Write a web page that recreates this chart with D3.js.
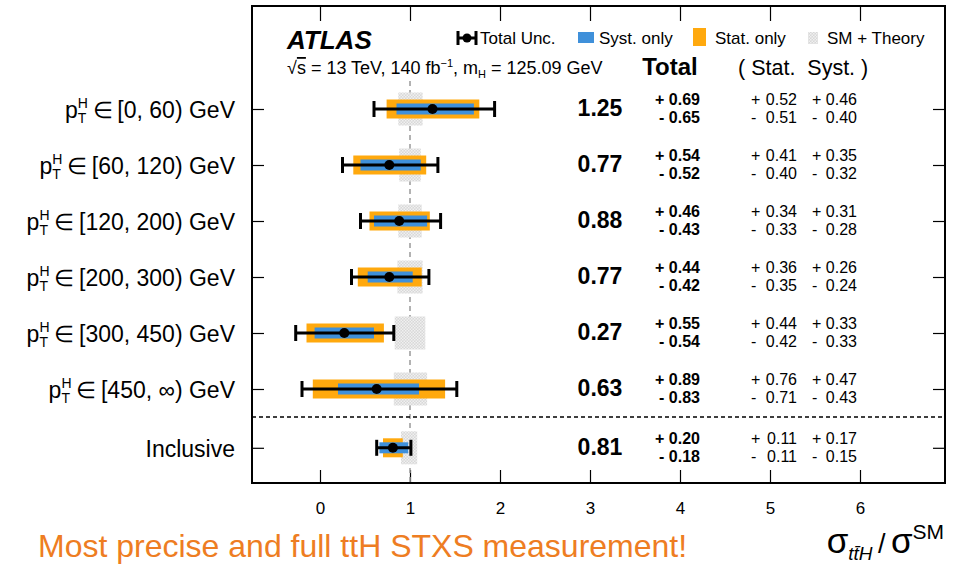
<!DOCTYPE html>
<html>
<head>
<meta charset="utf-8">
<script src="https://cdn.jsdelivr.net/npm/d3@7"></script>
<style>
  body { margin: 0; background: #fff; }
  text { font-family: "Liberation Sans", Arial, Helvetica, sans-serif; }
</style>
</head>
<body>
<script>
const WIDTH = 961;
const HEIGHT = 565;

// bins (top to bottom) and measured values
const binLabels = ["[0, 60)", "[60, 120)", "[120, 200)", "[200, 300)", "[300, 450)", "[450, \u221E)", "Inclusive"];
const rowPos   = [0, 1, 2, 3, 4, 5, 6.05];
const central  = [1.25, 0.77, 0.88, 0.77, 0.27, 0.63, 0.81];
const totUp    = [0.69, 0.54, 0.46, 0.44, 0.55, 0.89, 0.20];
const totDn    = [0.65, 0.52, 0.43, 0.42, 0.54, 0.83, 0.18];
const statUp   = [0.52, 0.41, 0.34, 0.36, 0.44, 0.76, 0.11];
const statDn   = [0.51, 0.40, 0.33, 0.35, 0.42, 0.71, 0.11];
const systUp   = [0.46, 0.35, 0.31, 0.26, 0.33, 0.47, 0.17];
const systDn   = [0.40, 0.32, 0.28, 0.24, 0.33, 0.43, 0.15];
const thUp     = [0.14, 0.12, 0.13, 0.14, 0.17, 0.19, 0.08];
const thDn     = [0.13, 0.12, 0.13, 0.14, 0.17, 0.18, 0.10];
const xTicks   = [0, 1, 2, 3, 4, 5, 6];
const legendLabels = ["Total Unc.", "Syst. only", "Stat. only", "SM + Theory"];

const ORANGE = "#ffa90e";
const BLUE = "#3f90da";

const rows = central.map((c, i) => ({
  label: binLabels[i], pos: rowPos[i], c,
  tu: totUp[i], td: totDn[i], su: statUp[i], sd: statDn[i],
  yu: systUp[i], yd: systDn[i], hu: thUp[i], hd: thDn[i]
}));

const frame = { left: 252, right: 945, top: 6, bottom: 483 };

const x = d3.scaleLinear().domain([-0.75, 6.95]).range([frame.left + 0.5, frame.right + 0.5]);
const y = d3.scaleLinear().domain([0, 6]).range([109, 445]);

let svg = d3.select("body")
            .append("svg")
            .attr("width", WIDTH)
            .attr("height", HEIGHT);

// checkered fill for SM theory band
let defs = svg.append("defs");
let pat = defs.append("pattern")
              .attr("id", "theory")
              .attr("patternUnits", "userSpaceOnUse")
              .attr("width", 3)
              .attr("height", 3);
pat.append("rect").attr("width", 3).attr("height", 3).attr("fill", "#d8d8d8");
pat.append("rect").attr("x", 0).attr("y", 0).attr("width", 1.5).attr("height", 1.5).attr("fill", "#f0f0f0");
pat.append("rect").attr("x", 1.5).attr("y", 1.5).attr("width", 1.5).attr("height", 1.5).attr("fill", "#f0f0f0");

// axes ticks
svg.append("g")
   .attr("transform", `translate(0,${frame.bottom})`)
   .call(d3.axisBottom(x).tickValues(xTicks).tickSize(-13).tickPadding(19).tickFormat(d3.format("d")))
   .call(g => g.select(".domain").remove())
   .call(g => g.selectAll("line").attr("stroke", "#000").attr("stroke-width", 1.2))
   .call(g => g.selectAll("text").attr("font-size", 17).attr("fill", "#000")
                .style("font-family", "'Liberation Sans', Arial, sans-serif"));

svg.append("g")
   .attr("transform", `translate(0,${frame.top})`)
   .call(d3.axisTop(x).tickValues(xTicks).tickSize(-15).tickFormat(""))
   .call(g => g.select(".domain").remove())
   .call(g => g.selectAll("line").attr("stroke", "#000").attr("stroke-width", 1.2));

svg.append("g")
   .attr("transform", `translate(${frame.left},0)`)
   .call(d3.axisLeft(y).tickValues(rowPos).tickSize(-12).tickFormat(""))
   .call(g => g.select(".domain").remove())
   .call(g => g.selectAll("line").attr("stroke", "#000").attr("stroke-width", 1.2));

svg.append("g")
   .attr("transform", `translate(${frame.right},0)`)
   .call(d3.axisRight(y).tickValues(rowPos).tickSize(-12).tickFormat(""))
   .call(g => g.select(".domain").remove())
   .call(g => g.selectAll("line").attr("stroke", "#000").attr("stroke-width", 1.2));

// SM reference line
svg.append("line")
   .attr("x1", x(1)).attr("x2", x(1))
   .attr("y1", 81).attr("y2", frame.bottom)
   .attr("stroke", "#999")
   .attr("stroke-width", 1.5)
   .attr("stroke-dasharray", "5,4");

// separator between bins and inclusive
svg.append("line")
   .attr("x1", frame.left).attr("x2", frame.right)
   .attr("y1", y(5.5)).attr("y2", y(5.5))
   .attr("stroke", "#000")
   .attr("stroke-width", 1.5)
   .attr("stroke-dasharray", "4,3");

let g = svg.selectAll("g.row")
           .data(rows).enter()
           .append("g")
           .attr("class", "row");

g.append("rect")
 .attr("x", d => x(1 - d.hd))
 .attr("width", d => x(1 + d.hu) - x(1 - d.hd))
 .attr("y", d => y(d.pos) - 16.5)
 .attr("height", 33)
 .attr("fill", "url(#theory)");

g.append("rect")
 .attr("x", d => x(d.c - d.sd))
 .attr("width", d => x(d.c + d.su) - x(d.c - d.sd))
 .attr("y", d => y(d.pos) - 9.5)
 .attr("height", 19)
 .attr("fill", ORANGE);

g.append("rect")
 .attr("x", d => x(d.c - d.yd))
 .attr("width", d => x(d.c + d.yu) - x(d.c - d.yd))
 .attr("y", d => y(d.pos) - 5.5)
 .attr("height", 11)
 .attr("fill", BLUE);

g.append("line")
 .attr("x1", d => x(d.c - d.td)).attr("x2", d => x(d.c + d.tu))
 .attr("y1", d => y(d.pos)).attr("y2", d => y(d.pos))
 .attr("stroke", "#000").attr("stroke-width", 3);

[d => x(d.c - d.td), d => x(d.c + d.tu)].forEach(fx => {
  g.append("line")
   .attr("x1", fx).attr("x2", fx)
   .attr("y1", d => y(d.pos) - 8).attr("y2", d => y(d.pos) + 8)
   .attr("stroke", "#000").attr("stroke-width", 3);
});

g.append("circle")
 .attr("cx", d => x(d.c))
 .attr("cy", d => y(d.pos))
 .attr("r", 5)
 .attr("fill", "#000");

// row labels: main part right-aligned, p_T^H placed before it
const LABEL_END = 235;
g.each(function(d) {
  const row = d3.select(this);
  const base = y(d.pos) + 9;
  if (d.label === "Inclusive") {
    row.append("text").attr("x", LABEL_END).attr("y", base)
       .attr("text-anchor", "end").attr("font-size", 23).text(d.label);
    return;
  }
  const main = row.append("text").attr("x", LABEL_END).attr("y", base)
                  .attr("text-anchor", "end").attr("font-size", 23)
                  .text("\u2208\u2009" + d.label + " GeV");
  const w = main.node().getComputedTextLength();
  const sx = LABEL_END - w - 15;
  row.append("text").attr("x", sx).attr("y", base + 5).attr("font-size", 14).text("T");
  row.append("text").attr("x", sx).attr("y", base - 10).attr("font-size", 14).text("H");
  row.append("text").attr("x", sx).attr("y", base)
     .attr("text-anchor", "end").attr("font-size", 23).text("p");
});

// numbers
g.append("text")
 .attr("x", 600)
 .attr("y", d => y(d.pos) + 7)
 .attr("text-anchor", "middle")
 .attr("font-size", 23)
 .attr("font-weight", "bold")
 .text(d => d.c.toFixed(2));

g.append("text")
 .attr("x", 700).attr("y", d => y(d.pos) - 4)
 .attr("text-anchor", "end").attr("font-size", 16).attr("font-weight", "bold")
 .text(d => "+ " + d.tu.toFixed(2));
g.append("text")
 .attr("x", 700).attr("y", d => y(d.pos) + 14)
 .attr("text-anchor", "end").attr("font-size", 16).attr("font-weight", "bold")
 .text(d => "- " + d.td.toFixed(2));

[[751, 797, "su", "sd"], [812, 857, "yu", "yd"]].forEach(([sx, ex, ku, kd]) => {
  [[ku, "+", -4], [kd, "-", 14]].forEach(([k, sign, dy]) => {
    g.append("text")
     .attr("x", sx).attr("y", d => y(d.pos) + dy)
     .attr("font-size", 16)
     .text(sign);
    g.append("text")
     .attr("x", ex).attr("y", d => y(d.pos) + dy)
     .attr("text-anchor", "end")
     .attr("font-size", 16)
     .text(d => d[k].toFixed(2));
  });
});

// frame
svg.append("rect")
   .attr("x", frame.left).attr("y", frame.top)
   .attr("width", frame.right - frame.left)
   .attr("height", frame.bottom - frame.top)
   .attr("fill", "none")
   .attr("stroke", "#000")
   .attr("stroke-width", 2);

// header
svg.append("text")
   .attr("x", 287).attr("y", 49)
   .attr("font-size", 26)
   .attr("font-weight", "bold")
   .attr("font-style", "italic")
   .text("ATLAS");

let sub = svg.append("text").attr("x", 287).attr("y", 74).attr("font-size", 18);
sub.append("tspan").text("\u221A");
sub.append("tspan").style("text-decoration", "overline").text("s");
sub.append("tspan").text(" = 13 TeV, 140 fb");
sub.append("tspan").attr("font-size", 11).attr("dy", -7).text("\u22121");
sub.append("tspan").attr("dy", 7).text(", m");
sub.append("tspan").attr("font-size", 11).attr("dy", 4).text("H");
sub.append("tspan").attr("dy", -4).text(" = 125.09 GeV");

svg.append("text")
   .attr("x", 670).attr("y", 75)
   .attr("text-anchor", "middle")
   .attr("font-size", 24)
   .attr("font-weight", "bold")
   .text("Total");

svg.append("text")
   .attr("x", 738).attr("y", 75)
   .attr("font-size", 21.5)
   .attr("xml:space", "preserve")
   .text("( Stat.  Syst. )");

// legend
const LY = 38;
let leg = svg.append("g");
leg.append("line").attr("x1", 458).attr("x2", 476).attr("y1", LY).attr("y2", LY)
   .attr("stroke", "#000").attr("stroke-width", 3);
[458, 476].forEach(lx => leg.append("line").attr("x1", lx).attr("x2", lx)
   .attr("y1", LY - 7).attr("y2", LY + 7).attr("stroke", "#000").attr("stroke-width", 3));
leg.append("circle").attr("cx", 467).attr("cy", LY).attr("r", 4.5).attr("fill", "#000");
leg.append("rect").attr("x", 578).attr("y", 32).attr("width", 16).attr("height", 11).attr("fill", BLUE);
leg.append("rect").attr("x", 693).attr("y", 28).attr("width", 13).attr("height", 18).attr("fill", ORANGE);
leg.append("rect").attr("x", 808).attr("y", 32).attr("width", 10).attr("height", 12).attr("fill", "url(#theory)");
[480, 599, 715, 827].forEach((lx, i) => {
  leg.append("text").attr("x", lx).attr("y", 44).attr("font-size", 17).text(legendLabels[i]);
});

// axis title
let xt = svg.append("text")
            .attr("x", 944).attr("y", 553)
            .attr("text-anchor", "end")
            .attr("font-size", 35);
xt.append("tspan").text("\u03C3");
xt.append("tspan").attr("font-size", 19).attr("font-style", "italic").attr("dy", 7).text("tt\u0304H");
xt.append("tspan").attr("font-size", 27).attr("dy", -7).text("\u2009/\u2009");
xt.append("tspan").text("\u03C3");
xt.append("tspan").attr("font-size", 21).attr("dy", -14).text("SM");

// banner
svg.append("text")
   .attr("x", 38).attr("y", 557)
   .attr("font-size", 32)
   .attr("fill", "#ee7d22")
   .text("Most precise and full ttH STXS measurement!");
</script>
</body>
</html>
